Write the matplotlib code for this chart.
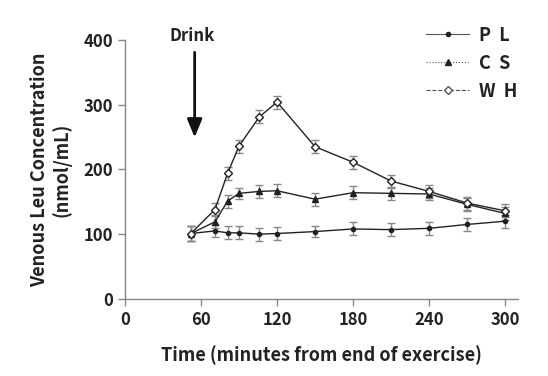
import matplotlib
matplotlib.use("Agg")
import matplotlib.pyplot as plt
from matplotlib.lines import Line2D

plt.rcParams["font.family"] = ["Noto Sans CJK SC", "DejaVu Sans"]

time = [52, 71, 81, 90, 106, 120, 150, 180, 210, 240, 270, 300]
pl = [101, 105, 102, 102, 100, 101, 104, 108, 107, 109, 115, 120]
cs = [101, 119, 151, 163, 166, 167, 154, 164, 163, 162, 146, 132]
wh = [101, 138, 194, 236, 281, 304, 235, 211, 182, 166, 148, 136]
pl_err = [12, 9, 10, 10, 10, 10, 9, 10, 10, 10, 10, 10]
cs_err = [12, 10, 10, 9, 10, 10, 10, 10, 10, 10, 10, 10]
wh_err = [12, 10, 10, 10, 10, 10, 10, 10, 10, 10, 10, 10]

fig = plt.figure(figsize=(5.48, 3.76), dpi=100)
ax = fig.add_axes([0.228, 0.205, 0.717, 0.689])

ebkw = dict(ecolor="#888888", elinewidth=1.0, capsize=3, capthick=1.0, zorder=2)
ax.errorbar(time, pl, yerr=pl_err, color="#222222", lw=1.0, marker="o", ms=3, **ebkw)
ax.errorbar(time, cs, yerr=cs_err, color="#222222", lw=1.0, marker="^", ms=4.2, **ebkw)
ax.errorbar(time, wh, yerr=wh_err, color="#222222", lw=1.0, marker="D", ms=4,
            mfc="white", mec="#222222", mew=1.0, **ebkw)

ax.set_xlim(0, 310)
ax.set_ylim(0, 400)
ax.set_xticks([0, 60, 120, 180, 240, 300])
ax.set_yticks([0, 100, 200, 300, 400])
for s in ["top", "right"]:
    ax.spines[s].set_visible(False)
for s in ["left", "bottom"]:
    ax.spines[s].set_color("#888888")
    ax.spines[s].set_linewidth(1.0)
ax.tick_params(colors="#888888", labelcolor="#222222", labelsize=12, length=5, width=1.0)
for lab in ax.get_xticklabels() + ax.get_yticklabels():
    lab.set_fontweight("bold")

ax.set_xlabel("Time (minutes from end of exercise)", fontsize=13, fontweight="bold",
              color="#222222", labelpad=12)
ax.set_ylabel("Venous Leu Concentration\n(nmol/mL)", fontsize=13, fontweight="bold",
              color="#222222", labelpad=9, linespacing=1.15)

# drink arrow
ax.annotate("", xy=(55, 245), xytext=(55, 385), annotation_clip=False,
            arrowprops=dict(arrowstyle="-|>,head_width=0.45,head_length=1.1",
                            color="#111111", lw=2))
ax.text(53, 392, "Drink", ha="center", va="bottom", fontsize=12, fontweight="bold",
        color="#222222", clip_on=False)

handles = [
    Line2D([], [], color="#555555", lw=0.8, ls="-", marker="o", ms=3, mfc="#222222", mec="#222222"),
    Line2D([], [], color="#555555", lw=0.8, ls=":", marker="^", ms=4.5, mfc="#222222", mec="#222222"),
    Line2D([], [], color="#555555", lw=0.8, ls="--", marker="D", ms=4.5, mfc="white", mec="#555555"),
]
leg = fig.legend(handles, ["P  L", "C  S", "W  H"], loc="upper left",
                 bbox_to_anchor=(0.748, 0.975), frameon=False, handlelength=2.4,
                 labelspacing=0.5, handletextpad=0.55,
                 prop=dict(size=13, weight="bold"))
for t in leg.get_texts():
    t.set_color("#222222")

fig.savefig("out.png", dpi=100)
